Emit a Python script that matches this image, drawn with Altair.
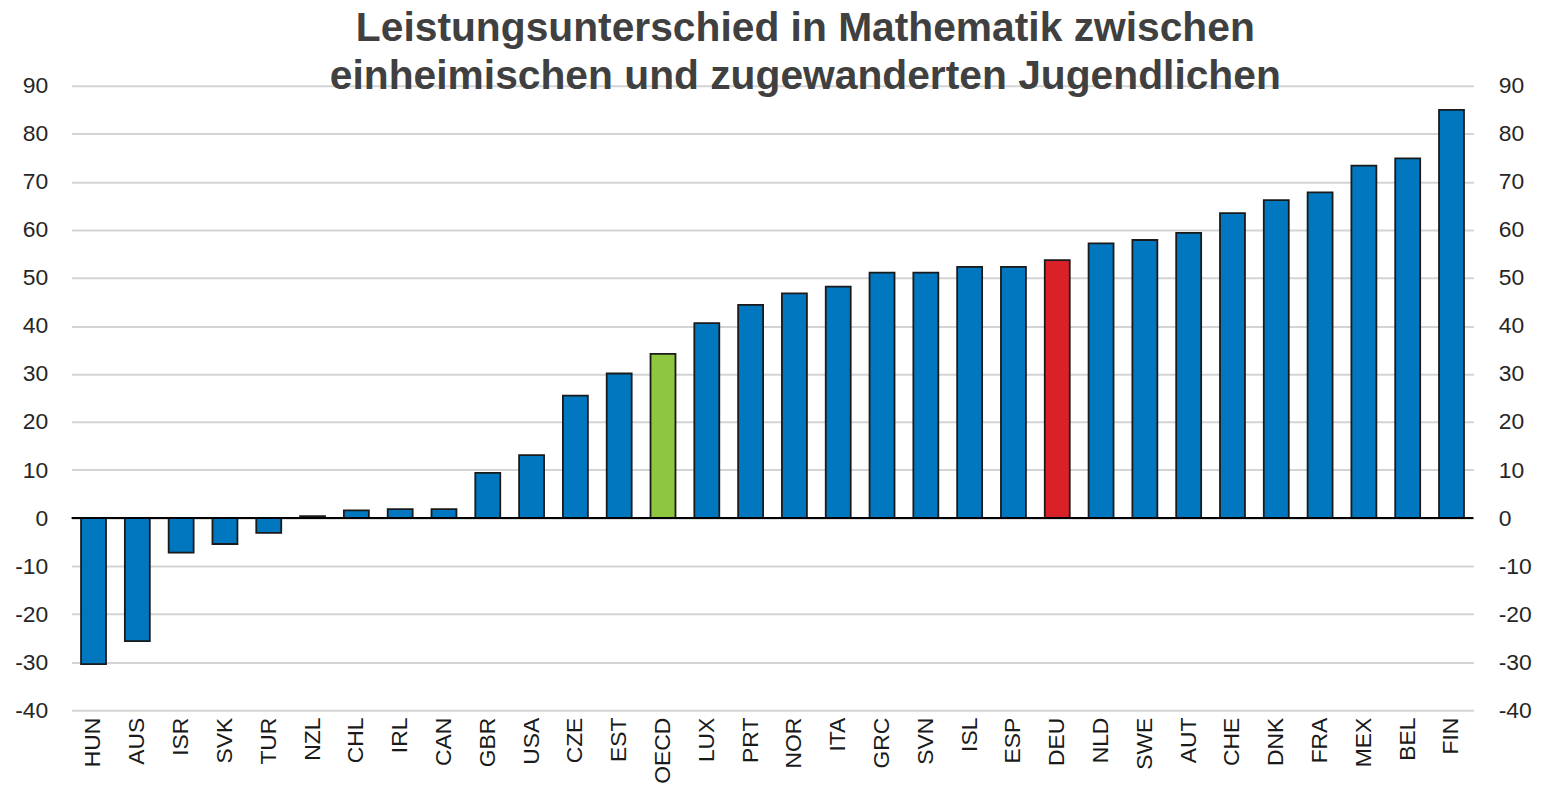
import altair as alt
import pandas as pd

countries = ["HUN", "AUS", "ISR", "SVK", "TUR", "NZL", "CHL", "IRL", "CAN", "GBR",
             "USA", "CZE", "EST", "OECD", "LUX", "PRT", "NOR", "ITA", "GRC", "SVN",
             "ISL", "ESP", "DEU", "NLD", "SWE", "AUT", "CHE", "DNK", "FRA", "MEX",
             "BEL", "FIN"]
values = [-30.4, -25.6, -7.2, -5.4, -3.1, 0.4, 1.6, 1.85, 1.85, 9.4,
          13.1, 25.5, 30.1, 34.2, 40.6, 44.4, 46.8, 48.2, 51.1, 51.1,
          52.3, 52.3, 53.7, 57.2, 57.9, 59.4, 63.5, 66.2, 67.8, 73.4,
          74.9, 85.0]
groups = ["Land"] * len(countries)
groups[countries.index("OECD")] = "OECD"
groups[countries.index("DEU")] = "DEU"

title_lines = ["Leistungsunterschied in Mathematik zwischen",
               "einheimischen und zugewanderten Jugendlichen"]
y_ticks = list(range(-40, 91, 10))

df = pd.DataFrame({"land": countries, "wert": values, "gruppe": groups})
zero_df = pd.DataFrame({"null": [0]})

FONT = "Liberation Sans"

yscale = alt.Scale(domain=[-40, 90], nice=False, zero=False)

bars = alt.Chart(df).mark_bar(stroke="#1a1a1a", strokeWidth=1.8).encode(
    x=alt.X("land:N", sort=countries, title=None,
            scale=alt.Scale(paddingInner=0.43, paddingOuter=0.215),
            axis=alt.Axis(labelAngle=-90, labelFont=FONT, labelFontSize=23,
                          labelColor="#1a1a1a", ticks=False, domain=False,
                          labelPadding=7, grid=False)),
    y=alt.Y("wert:Q", scale=yscale, title=None,
            axis=alt.Axis(values=y_ticks, orient="left", labelFont=FONT,
                          labelFontSize=23, labelColor="#262626", ticks=False,
                          domain=False, labelPadding=24, grid=True,
                          gridColor="#d4d4d4", gridWidth=2,
                          labelExpr="datum.value + ''")),
    color=alt.Color("gruppe:N",
                    scale=alt.Scale(domain=["Land", "OECD", "DEU"],
                                    range=["#0077BF", "#8DC63F", "#DA2128"]),
                    legend=None),
)

right_axis = alt.Chart(df).mark_bar(opacity=0).encode(
    x=alt.X("land:N", sort=countries),
    y=alt.Y("wert:Q", scale=yscale, title=None,
            axis=alt.Axis(values=y_ticks, orient="right", labelFont=FONT,
                          labelFontSize=23, labelColor="#262626", ticks=False,
                          domain=False, labelPadding=25, grid=False,
                          labelAlign="left", labelExpr="datum.value + ''")),
)

zero_line = alt.Chart(zero_df).mark_rule(color="#000000", strokeWidth=2).encode(
    y=alt.Y("null:Q", scale=yscale, axis=None)
)

chart = alt.layer(bars, right_axis, zero_line).resolve_axis(
    y="independent"
).resolve_scale(y="shared").properties(
    width=1410, height=628,
    autosize=alt.AutoSizeParams(type="none"),
    padding={"left": 64, "top": 76, "right": 70, "bottom": 80},
    title=alt.TitleParams(text=title_lines, font=FONT, fontSize=41,
                          fontWeight="bold", color="#404040", anchor="middle",
                          frame="group", dx=33, lineHeight=48,
                          baseline="bottom", offset=-64),
).configure_view(stroke=None)

chart.save("out.html", embed_options={"renderer": "svg", "actions": False})
